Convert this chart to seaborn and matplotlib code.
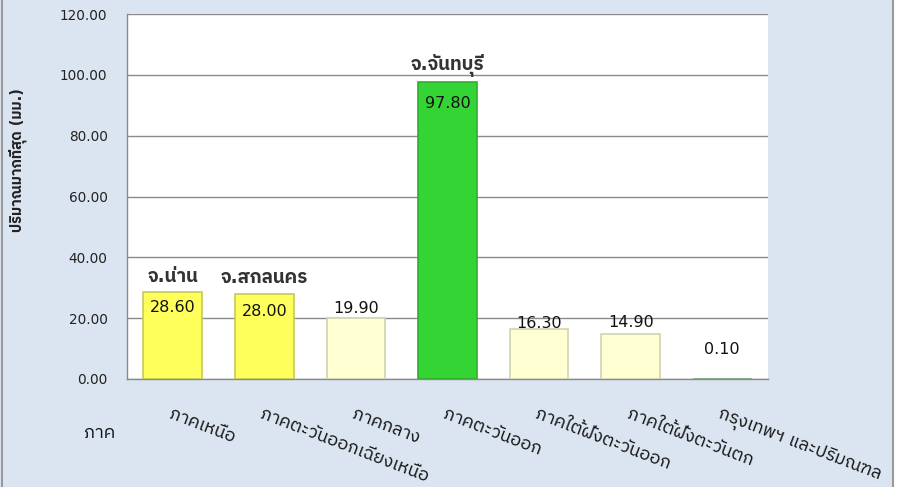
import matplotlib
matplotlib.use("Agg")
import matplotlib.pyplot as plt
import seaborn as sns
import pandas as pd
from matplotlib import font_manager
from matplotlib.ft2font import FT2Font
from matplotlib.lines import Line2D
from matplotlib.patches import Rectangle

# Datos del grafico
regiones = ["ภาคเหนือ", "ภาคตะวันออกเฉียงเหนือ", "ภาคกลาง", "ภาคตะวันออก",
            "ภาคใต้ฝั่งตะวันออก", "ภาคใต้ฝั่งตะวันตก", "กรุงเทพฯ และปริมณฑล"]
lluvia_max = [28.60, 28.00, 19.90, 97.80, 16.30, 14.90, 0.10]
provincias = ["จ.น่าน", "จ.สกลนคร", "", "จ.จันทบุรี", "", "", ""]
y_ticks = [0, 20, 40, 60, 80, 100, 120]

colores = ["#ffff5c", "#ffff5c", "#ffffd2", "#35d435", "#ffffd2", "#ffffd2", "#8cc08c"]
bordes = ["#c8c85a", "#c8c85a", "#d2d2b4", "#2fae2f", "#d2d2b4", "#d2d2b4", "#7aa87a"]

# buscar una fuente con glifos tailandeses
thai_font = None
candidatos = []
for f in font_manager.fontManager.ttflist:
    try:
        cm = FT2Font(f.fname).get_charmap()
    except Exception:
        continue
    if 0x0E01 in cm:
        candidatos.append(f)
if candidatos:
    candidatos.sort(key=lambda f: (f.weight != 400 and f.weight != "normal", "Thai" not in f.name, f.style != "normal"))
    thai_font = candidatos[0].name

sns.set_style("white")
familias = ["DejaVu Sans"]
if thai_font:
    familias = ["DejaVu Sans", thai_font]
plt.rcParams["font.family"] = familias

df = pd.DataFrame({"region": regiones, "valor": lluvia_max})

fig = plt.figure(figsize=(9.03, 4.87), dpi=100, facecolor="#dbe5f1")
ax = fig.add_axes([127 / 903, 1 - 379 / 487, 641 / 903, 365 / 487])
ax.set_facecolor("white")

sns.barplot(data=df, x="region", y="valor", hue="region", palette=colores,
            saturation=1, legend=False, width=0.64, ax=ax, zorder=3)

for barra, borde in zip(ax.patches, bordes):
    barra.set_edgecolor(borde)
    barra.set_linewidth(1.2)

ax.set_ylim(0, 120)
ax.set_yticks(y_ticks)
ax.set_yticklabels([f"{v:.2f}" for v in y_ticks], fontsize=9.8, color="#222222")
ax.grid(axis="y", color="#8a8a8a", linewidth=1, zorder=0)
ax.set_axisbelow(True)
for lado in ["top", "right"]:
    ax.spines[lado].set_visible(False)
for lado in ["left", "bottom"]:
    ax.spines[lado].set_color("#8a8a8a")
    ax.spines[lado].set_linewidth(1)
ax.tick_params(axis="both", length=0)
ax.tick_params(axis="y", pad=14)
ax.set_xlabel("")
ax.set_ylabel("")

ax.set_xticks(range(len(regiones)))
ax.set_xticklabels(regiones, rotation=-21, ha="left", rotation_mode="anchor",
                   fontsize=13, style="italic", color="#111111")
ax.tick_params(axis="x", pad=19)
for lbl in ax.get_xticklabels():
    lbl.set_clip_on(False)

# etiquetas de valor (offset en puntos)
offsets = [-11.5, -13, 7.5, -15.5, 4.6, 8.4, 21]
for i, (v, prov, off) in enumerate(zip(lluvia_max, provincias, offsets)):
    ax.annotate(f"{v:.2f}", (i, v), xytext=(0, off), textcoords="offset points",
                ha="center", va="center", fontsize=11.5, color="#111111", zorder=5)
    if prov:
        ax.annotate(prov, (i, v), xytext=(0, 11.5), textcoords="offset points",
                    ha="center", va="center", fontsize=13.5, fontweight="bold",
                    color="#333333", zorder=5)

fig.text(18 / 903, 1 - 160 / 487, "ปริมาณมากที่สุด (มม.)", rotation=90,
         ha="center", va="center", fontsize=10.5, fontweight="bold", color="#222222")
fig.text(100 / 903, 1 - 433 / 487, "ภาค", ha="center", va="center",
         fontsize=13, color="#111111")

# borde del cuadro
fig.add_artist(Rectangle((894 / 903, 0), 9 / 903, 1, transform=fig.transFigure,
                         facecolor="white", edgecolor="none"))
fig.add_artist(Line2D([2 / 903, 2 / 903], [0, 1], color="#9a9a9a", linewidth=1.5))
fig.add_artist(Line2D([893 / 903, 893 / 903], [0, 1], color="#9a9a9a", linewidth=1.5))

fig.savefig("out.png", dpi=100, facecolor=fig.get_facecolor())
